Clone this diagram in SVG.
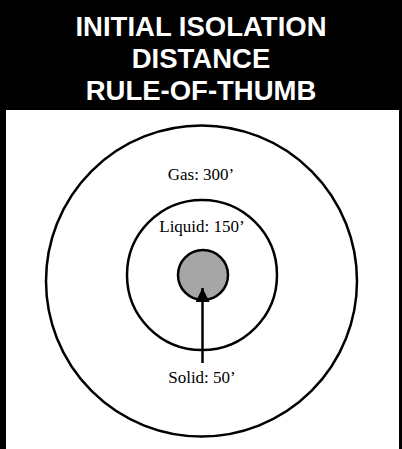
<svg xmlns="http://www.w3.org/2000/svg" width="402" height="449" viewBox="0 0 402 449">
  <style>
    .title { font-family: "Liberation Sans", Arial, sans-serif; font-weight: bold; font-size: 27.5px; fill: #ffffff; text-anchor: middle; }
    .label { font-family: "Liberation Serif", "Times New Roman", serif; font-size: 17px; fill: #000000; text-anchor: middle; }
    .ring { fill: none; stroke: #000000; stroke-width: 2.5; }
    .conn { stroke: #000000; stroke-width: 2.5; fill: none; }
  </style>
  <defs>
    <marker id="arrow" viewBox="0 0 10 10" refX="10" refY="5" markerWidth="5.6" markerHeight="5.6" markerUnits="strokeWidth" orient="auto">
      <path d="M0,0 L10,5 L0,10 Z" fill="#000000"/>
    </marker>
  </defs>
  <rect x="0" y="0" width="402" height="449" fill="#ffffff"/>
  <g id="frame">
    <rect x="0" y="0" width="402" height="110" fill="#000000"/>
    <rect x="0" y="0" width="6" height="449" fill="#000000"/>
    <rect x="399" y="0" width="3" height="449" fill="#000000"/>
  </g>
  <g id="title">
    <text class="title" x="201" y="36">INITIAL ISOLATION</text>
    <text class="title" x="201" y="68">DISTANCE</text>
    <text class="title" x="201" y="100">RULE-OF-THUMB</text>
  </g>
  <g id="gas">
    <circle class="ring" cx="201.5" cy="281" r="155.5"/>
    <text class="label" x="201" y="180">Gas: 300’</text>
  </g>
  <g id="liquid">
    <circle class="ring" cx="202" cy="275" r="75"/>
    <text class="label" x="202" y="232">Liquid: 150’</text>
  </g>
  <g id="solid">
    <circle cx="203" cy="275" r="25" fill="#a6a6a6" stroke="#000000" stroke-width="2.5"/>
    <text class="label" x="202" y="383">Solid: 50’</text>
  </g>
  <g id="connectors">
    <line class="conn" x1="202.5" y1="363" x2="202.5" y2="288" marker-end="url(#arrow)"/>
  </g>
</svg>
